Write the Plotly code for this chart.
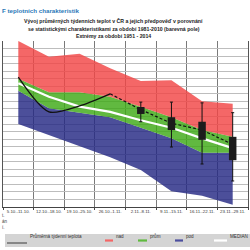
import plotly.graph_objects as go

cats = ["5.10.-11.10.", "12.10.-18.10.", "19.10.-25.10.", "26.10.-1.11.",
        "2.11.-8.11.", "9.11.-15.11.", "16.11.-22.11.", "23.11.-29.11."]

t_max = [16.0, 13.9, 14.3, 12.4, 10.7, 10.8, 8.0, 7.7]
t_upper = [11.0, 9.2, 9.2, 8.6, 7.3, 5.9, 4.2, 3.3]
t_median = [10.4, 8.6, 7.3, 6.6, 5.5, 4.5, 3.1, 1.8]
t_lower = [9.4, 7.1, 6.5, 5.9, 4.5, 3.1, 1.2, 1.2]
t_min = [5.0, 3.5, 2.1, 0.6, -1.1, -3.9, -4.5, -5.7]

actual_cats = cats[:4]
actual = [11.2, 6.6, 7.4, 9.0]

fc_cats = cats[3:]
forecast = [9.0, 6.9, 5.1, 4.2, 2.3]

box_cats = cats[4:]
box_q3 = [7.25, 5.9, 5.3, 3.3]
box_q1 = [6.33, 4.2, 2.9, 0.2]
box_hi = [7.9, 7.9, 7.8, 6.5]
box_lo = [5.3, 1.95, -0.3, -2.55]
box_med = [6.9, 5.1, 4.2, 2.3]

legend_labels = ["Průměrná týdenní teplota", "nad", "prům", "pod", "MEDIAN"]

RED = "rgba(242,70,70,0.82)"
GREEN = "rgba(62,170,22,0.82)"
BLUE = "rgba(36,40,132,0.82)"
FONT = "Liberation Sans, Arial, sans-serif"

fig = go.Figure()
fig.add_trace(go.Scatter(x=cats, y=t_min, mode="lines", line=dict(width=0), hoverinfo="skip"))
fig.add_trace(go.Scatter(x=cats, y=t_lower, mode="lines", line=dict(width=0),
                         fill="tonexty", fillcolor=BLUE))
fig.add_trace(go.Scatter(x=cats, y=t_upper, mode="lines", line=dict(width=0),
                         fill="tonexty", fillcolor=GREEN))
fig.add_trace(go.Scatter(x=cats, y=t_max, mode="lines", line=dict(width=0),
                         fill="tonexty", fillcolor=RED))
fig.add_trace(go.Scatter(x=cats, y=t_median, mode="lines",
                         line=dict(color="white", width=2.2)))
fig.add_trace(go.Scatter(x=fc_cats, y=forecast, mode="lines",
                         line=dict(color="#111", width=1.2, dash="3px,2px")))

# forecast ranges: whiskers (error bars with small caps) and boxes (thick vertical segments)
fig.add_trace(go.Scatter(
    x=box_cats, y=box_med, mode="markers", marker=dict(size=0.1, color="#111"),
    error_y=dict(type="data", symmetric=False,
                 array=[h - m for h, m in zip(box_hi, box_med)],
                 arrayminus=[m - l for m, l in zip(box_med, box_lo)],
                 color="#111", thickness=1, width=1.5)))
bx, by = [], []
for c, lo, hi in zip(box_cats, box_q1, box_q3):
    bx += [c, c, None]
    by += [lo, hi, None]
fig.add_trace(go.Scatter(x=bx, y=by, mode="lines", line=dict(color="#1c1c1c", width=7.5),
                         connectgaps=False))

fig.add_trace(go.Scatter(x=actual_cats, y=actual, mode="lines",
                         line=dict(color="#111", width=1.3, shape="spline", smoothing=0.8)))

fig.update_layout(
    width=250, height=250, margin=dict(l=0, r=0, t=0, b=0),
    paper_bgcolor="white", plot_bgcolor="white", showlegend=False,
    font=dict(family=FONT, color="#222"),
    xaxis=dict(domain=[0.012, 0.992], type="category", range=[-0.5, 7.5],
               tickson="boundaries", showgrid=True, gridcolor="#7a7a7a", gridwidth=1,
               ticks="outside", ticklen=2, tickcolor="#444", tickangle=0,
               showline=True, linecolor="#444", linewidth=1,
               tickfont=dict(size=4.4, color="#333")),
    yaxis=dict(domain=[0.172, 0.836], range=[-6, 16], dtick=1,
               showticklabels=False, showgrid=True, gridcolor="#bdbdbd", gridwidth=0.6,
               showline=True, linecolor="#555", linewidth=1, mirror=True, zeroline=False),
)

# page header and chart title
fig.add_annotation(x=0, y=1 - 5 / 250, xref="paper", yref="paper", xanchor="left",
                   showarrow=False, text="<b>F teplotních charakteristik</b>",
                   font=dict(size=6.2, color="#2a78b8"))
titles = ["Vývoj průměrných týdenních teplot v ČR a jejich předpověď v porovnání",
          "se statistickými charakteristikami za období 1981-2010 (barevná pole)",
          "Extrémy za období 1951 - 2014"]
for i, t in enumerate(titles):
    fig.add_annotation(x=0.455, y=1 - (16 + 7.5 * i) / 250, xref="paper", yref="paper",
                       showarrow=False, text="<b>" + t + "</b>",
                       font=dict(size=5.2, color="#222"))

# cut-off text fragments at left
for i, t in enumerate(["t.", "án", "í."]):
    fig.add_annotation(x=0, y=1 - (220 + 6 * i) / 250, xref="paper", yref="paper",
                       xanchor="left", showarrow=False, text=t,
                       font=dict(size=4.5, color="#444"))

# legend box
fig.add_shape(type="rect", xref="paper", yref="paper", x0=5 / 250, x1=1.0,
              y0=1 - 247 / 250, y1=1 - 234 / 250, fillcolor="#d4d4d4", line=dict(width=0),
              layer="below")
leg_colors = ["#111", "rgb(244,102,102)", "rgb(96,186,62)", "rgb(75,78,158)", "white"]
leg_x0 = [7, 105, 138, 175, 214]
leg_x1 = [27, 113, 147, 183, 227]
leg_w = [0.8, 2.2, 2.2, 2.2, 2.2]
for lab, c, a, b, w in zip(legend_labels, leg_colors, leg_x0, leg_x1, leg_w):
    yy = 1 - (243 if w < 1 else 240.5) / 250
    fig.add_shape(type="line", xref="paper", yref="paper", x0=a / 250, x1=b / 250,
                  y0=yy, y1=yy, line=dict(color=c, width=w))
    fig.add_annotation(x=(b + 1) / 250, y=1 - 240.5 / 250, xref="paper", yref="paper",
                       xanchor="left", showarrow=False, text=lab,
                       font=dict(size=4.6, color="#333"))

fig.write_html("out.html")
